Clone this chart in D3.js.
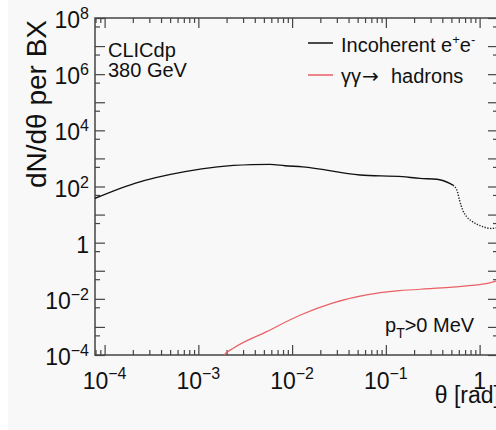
<!DOCTYPE html>
<html>
  <head>
    <meta http-equiv="Content-Type" content="text/html;charset=utf-8">
    <title>dN/dtheta per BX</title>
    <script src="https://d3js.org/d3.v7.min.js"></script>
    <style>
      html, body {
        margin: 0;
        padding: 0;
        background: #fff;
      }
      text {
        font-family: "Liberation Sans", Arial, Helvetica, sans-serif;
        fill: #111;
      }
    </style>
  </head>
  <body>
<script type="text/javascript">

// incoherent e+e- pairs (black)
var incTheta = [7.9e-5, 2.1e-4, 7.2e-4, 1.6e-3, 3.7e-3, 5.8e-3, 8.4e-3, 0.013, 0.053, 0.15, 0.23, 0.35, 0.48, 0.52];
var incVal   = [38, 130, 340, 500, 600, 615, 550, 500, 257, 224, 195, 182, 129, 112];
// steep drop near theta ~ 0.6, drawn as points
var incTailTheta = [0.52, 0.58, 0.61, 0.66, 0.73, 0.84, 1.08, 1.34, 1.52];
var incTailVal   = [112, 65, 33, 14.5, 8.3, 5.6, 3.7, 3.2, 3.4];

// gamma gamma -> hadrons (red)
var hadTheta = [1.7e-3, 1.88e-3, 2.36e-3, 5.36e-3, 0.0121, 0.0274, 0.062, 0.14, 0.318, 0.72, 1.28, 1.5];
var hadVal   = [6e-5, 1e-4, 1.74e-4, 6.8e-4, 2.6e-3, 7.2e-3, 0.0138, 0.0195, 0.0234, 0.0288, 0.037, 0.043];

var xMajor = [1e-4, 1e-3, 1e-2, 1e-1, 1];
var xLabels = [["10", "\u22124"], ["10", "\u22123"], ["10", "\u22122"], ["10", "\u22121"], ["1", ""]];
var yLabelExp = [8, 6, 4, 2, 0, -2, -4];

var W = 496, H = 430;
var pLeft = 95, pRight = 498, pTop = 18, pBottom = 355;

var svg = d3.select("body").append("svg")
  .attr("width", W)
  .attr("height", H);

svg.append("rect")
  .attr("x", 8).attr("y", 0)
  .attr("width", W - 8).attr("height", H)
  .attr("fill", "#f8f8f8");

var x = d3.scaleLog().domain([7.9e-5, Math.PI / 2]).range([pLeft, pRight]);
var y = d3.scaleLog().domain([1e-4, 1e8]).range([pBottom, pTop]);

// minor tick values
var xMinor = [];
for (var e = -5; e <= 0; e++) {
  for (var k = 2; k <= 9; k++) {
    var v = k * Math.pow(10, e);
    if (v > x.domain()[0] && v < x.domain()[1]) xMinor.push(v);
  }
}
var yMajor = d3.range(-4, 9).map(function(d) { return Math.pow(10, d); });
var yMinor = d3.range(-4, 8).map(function(d) { return 5 * Math.pow(10, d); });

function styleAxis(g) {
  g.select(".domain").remove();
  g.selectAll("line").attr("stroke", "#444").attr("stroke-width", 1.2);
  g.selectAll("text").remove();
}

svg.append("g").attr("transform", "translate(0," + pBottom + ")")
  .call(d3.axisTop(x).tickValues(xMajor).tickSize(10)).call(styleAxis);
svg.append("g").attr("transform", "translate(0," + pBottom + ")")
  .call(d3.axisTop(x).tickValues(xMinor).tickSize(5)).call(styleAxis);
svg.append("g").attr("transform", "translate(0," + pTop + ")")
  .call(d3.axisBottom(x).tickValues(xMajor).tickSize(10)).call(styleAxis);
svg.append("g").attr("transform", "translate(0," + pTop + ")")
  .call(d3.axisBottom(x).tickValues(xMinor).tickSize(5)).call(styleAxis);

svg.append("g").attr("transform", "translate(" + pLeft + ",0)")
  .call(d3.axisRight(y).tickValues(yMajor).tickSize(10)).call(styleAxis);
svg.append("g").attr("transform", "translate(" + pLeft + ",0)")
  .call(d3.axisRight(y).tickValues(yMinor).tickSize(5)).call(styleAxis);
svg.append("g").attr("transform", "translate(" + pRight + ",0)")
  .call(d3.axisLeft(y).tickValues(yMajor).tickSize(10)).call(styleAxis);
svg.append("g").attr("transform", "translate(" + pRight + ",0)")
  .call(d3.axisLeft(y).tickValues(yMinor).tickSize(5)).call(styleAxis);

// frame
svg.append("rect")
  .attr("x", pLeft).attr("y", pTop)
  .attr("width", pRight - pLeft).attr("height", pBottom - pTop)
  .attr("fill", "none").attr("stroke", "#444").attr("stroke-width", 1.5);

// x tick labels
xMajor.forEach(function(v, i) {
  var t = svg.append("text")
    .attr("x", x(v)).attr("y", 389)
    .attr("text-anchor", "middle")
    .style("font-size", "23px");
  t.append("tspan").text(xLabels[i][0]);
  if (xLabels[i][1]) {
    t.append("tspan").attr("dy", -10).style("font-size", "16px").text(xLabels[i][1]);
  }
});

// y tick labels
yLabelExp.forEach(function(p) {
  var t = svg.append("text")
    .attr("x", 89).attr("y", y(Math.pow(10, p)) + 10)
    .attr("text-anchor", "end")
    .style("font-size", "23px");
  if (p === 0) {
    t.text("1");
  } else {
    t.append("tspan").text("10");
    t.append("tspan").attr("dy", -9).style("font-size", "16px")
      .text(p < 0 ? "\u2212" + (-p) : "" + p);
  }
});

// axis titles
svg.append("text")
  .attr("x", 500).attr("y", 403)
  .attr("text-anchor", "end")
  .style("font-size", "23px")
  .text("\u03b8 [rad]");

svg.append("text")
  .attr("transform", "translate(46,20) rotate(-90)")
  .attr("text-anchor", "end")
  .style("font-size", "28px")
  .text("dN/d\u03b8 per BX");

// curves
svg.append("clipPath").attr("id", "plotclip")
  .append("rect")
  .attr("x", pLeft).attr("y", pTop)
  .attr("width", pRight - pLeft).attr("height", pBottom - pTop);

var plot = svg.append("g").attr("clip-path", "url(#plotclip)");

var line = d3.line()
  .x(function(d) { return x(d[0]); })
  .y(function(d) { return y(d[1]); })
  .curve(d3.curveMonotoneX);

plot.append("path")
  .attr("d", line(d3.zip(incTheta, incVal)))
  .attr("fill", "none").attr("stroke", "#111").attr("stroke-width", 1.4);

plot.append("path")
  .attr("d", line(d3.zip(incTailTheta, incTailVal)))
  .attr("fill", "none").attr("stroke", "#222").attr("stroke-width", 1.4)
  .attr("stroke-dasharray", "1.3 1.5");

plot.append("path")
  .attr("d", line(d3.zip(hadTheta, hadVal)))
  .attr("fill", "none").attr("stroke", "#ea6065").attr("stroke-width", 1.2);

// CLICdp label
svg.append("text").attr("x", 108).attr("y", 57).style("font-size", "20px").text("CLICdp");
svg.append("text").attr("x", 108).attr("y", 77).style("font-size", "20px").text("380 GeV");

// legend
var legend = [
  { color: "#111", y: 43 },
  { color: "#ea6065", y: 75 }
];
svg.selectAll(".legline").data(legend).enter().append("line")
  .attr("x1", 308).attr("x2", 333)
  .attr("y1", function(d) { return d.y; }).attr("y2", function(d) { return d.y; })
  .attr("stroke", function(d) { return d.color; }).attr("stroke-width", 1.5);

var l1 = svg.append("text").attr("x", 341).attr("y", 52).style("font-size", "20px");
l1.append("tspan").text("Incoherent e");
l1.append("tspan").attr("dy", -8).style("font-size", "13px").text("+");
l1.append("tspan").attr("dy", 8).text("e");
l1.append("tspan").attr("dy", -8).style("font-size", "13px").text("-");

var l2 = svg.append("text").attr("y", 83).style("font-size", "20px");
l2.append("tspan").attr("x", 341).text("\u03b3\u03b3");
l2.append("tspan").attr("x", 362).style("font-family", "'DejaVu Sans'").style("font-size", "20px").text("\u2192");
l2.append("tspan").attr("x", 391).text("hadrons");

// pT cut label
var pt = svg.append("text").attr("x", 385).attr("y", 332).style("font-size", "20px");
pt.append("tspan").text("p");
pt.append("tspan").attr("dy", 6).style("font-size", "14px").text("T");
pt.append("tspan").attr("dy", -6).text(">0 MeV");

</script>
  </body>
</html>
